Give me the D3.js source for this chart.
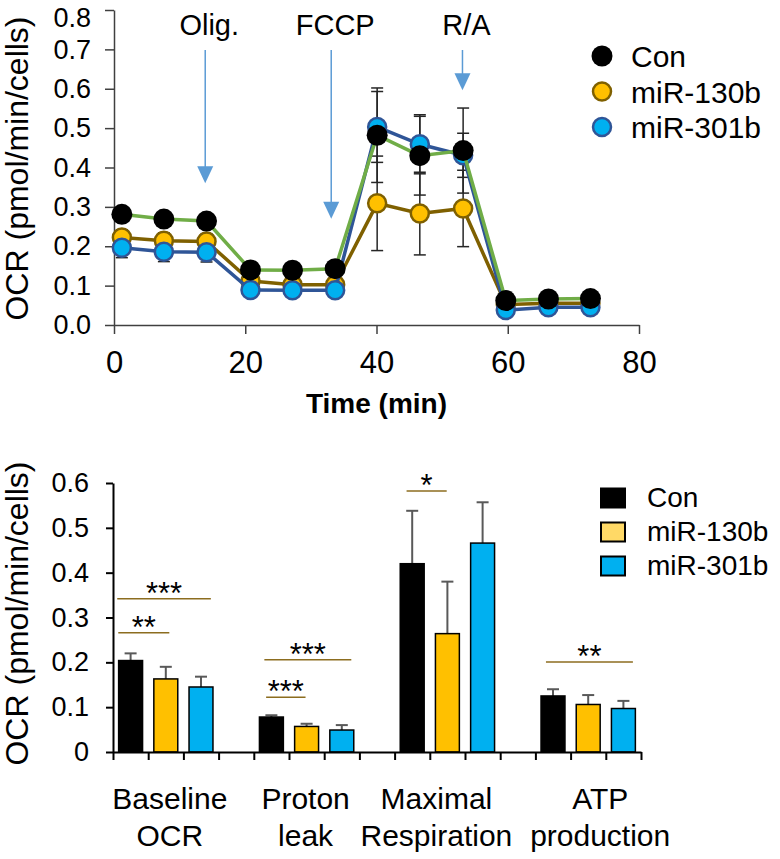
<!DOCTYPE html>
<html>
<head>
<meta charset="utf-8">
<script src="https://cdn.jsdelivr.net/npm/d3@7"></script>
<style>
body { margin: 0; background: #fff; }
text { font-family: "Liberation Sans", Arial, sans-serif; fill: #000; }
</style>
</head>
<body>
<script>
// ---- top panel: OCR time course ----
var times = [1.2, 7.6, 14.1, 20.8, 27.2, 33.7, 40.1, 46.6, 53.2, 59.7, 66.2, 72.6];
var conOCR = [0.281, 0.269, 0.264, 0.140, 0.139, 0.143, 0.482, 0.430, 0.443, 0.062, 0.066, 0.067];
var conErr = [0.015, 0.012, 0.015, 0.008, 0.008, 0.008, 0.120, 0.100, 0.108, 0.005, 0.005, 0.005];
var mir130OCR = [0.222, 0.214, 0.212, 0.112, 0.102, 0.102, 0.309, 0.283, 0.296, 0.052, 0.055, 0.055];
var mir130Err = [0.020, 0.020, 0.020, 0.008, 0.008, 0.008, 0.120, 0.105, 0.097, 0.005, 0.005, 0.005];
var mir301OCR = [0.196, 0.186, 0.185, 0.089, 0.088, 0.088, 0.503, 0.459, 0.431, 0.038, 0.045, 0.045];
var mir301Err = [0.025, 0.025, 0.025, 0.008, 0.008, 0.008, 0.090, 0.075, 0.056, 0.005, 0.005, 0.005];

var injNames = ["Olig.", "FCCP", "R/A"];
var injTimes = [13.9, 33.1, 53.1];
var injTips = [0.36, 0.27, 0.596];

var timeTicks = [0, 20, 40, 60, 80];
var ocrTicks = [0, 0.1, 0.2, 0.3, 0.4, 0.5, 0.6, 0.7, 0.8];

// ---- bottom panel: derived parameters ----
var groups = [["Baseline", "OCR"], ["Proton", "leak"], ["Maximal", "Respiration"], ["ATP", "production"]];
var conBar = [0.204, 0.078, 0.420, 0.125];
var conBarErr = [0.016, 0.004, 0.118, 0.015];
var mir130Bar = [0.163, 0.057, 0.264, 0.106];
var mir130BarErr = [0.027, 0.006, 0.116, 0.021];
var mir301Bar = [0.145, 0.049, 0.466, 0.097];
var mir301BarErr = [0.023, 0.011, 0.091, 0.017];
var barTicks = [0, 0.1, 0.2, 0.3, 0.4, 0.5, 0.6];

// significance brackets, x in bar-slot units
var sigLabels = ["***", "**", "***", "***", "*", "**"];
var sigFrom = [0.12, 0.15, 4.30, 4.35, 8.34, 12.30];
var sigTo = [2.78, 1.60, 6.77, 5.47, 9.48, 14.77];
var sigLevel = [0.342, 0.266, 0.206, 0.122, 0.582, 0.201];

var svg = d3.select("body").append("svg")
    .attr("width", 780)
    .attr("height", 859);

// ================= TOP =================
var x = d3.scaleLinear().domain([0, 80]).range([114, 639]);
var y = d3.scaleLinear().domain([0, 0.8]).range([325, 10]);

var upper = svg.append("g");

// axes
upper.append("g")
    .attr("transform", "translate(0," + y(0) + ")")
    .call(d3.axisBottom(x).tickValues(timeTicks).tickSize(9).tickPadding(17).tickSizeOuter(0))
    .call(function(g) {
        g.select(".domain").attr("stroke", "#404040").attr("stroke-width", 1.5);
        g.selectAll(".tick line").attr("stroke", "#404040").attr("stroke-width", 1.5);
        g.selectAll("text").attr("font-size", 31).attr("font-family", null);
    });

upper.append("g")
    .attr("transform", "translate(" + x(0) + ",0)")
    .call(d3.axisLeft(y).tickValues(ocrTicks).tickFormat(d3.format(".1f")).tickSize(9).tickPadding(14).tickSizeOuter(0))
    .call(function(g) {
        g.select(".domain").attr("stroke", "#404040").attr("stroke-width", 1.5);
        g.selectAll(".tick line").attr("stroke", "#404040").attr("stroke-width", 1.5);
        g.selectAll("text").attr("font-size", 27).attr("font-family", null)
            .attr("dy", function(d) { return d === 0.8 ? "0.62em" : "0.32em"; });
    });

upper.append("text")
    .attr("transform", "translate(27.5," + ((y(0) + y(0.8)) / 2 + 1) + ") rotate(-90)")
    .attr("text-anchor", "middle")
    .attr("font-size", 32)
    .text("OCR (pmol/min/cells)");

upper.append("text")
    .attr("x", (x(0) + x(80)) / 2)
    .attr("y", 413)
    .attr("text-anchor", "middle")
    .attr("font-size", 28)
    .attr("font-weight", "bold")
    .text("Time (min)");

// injection arrows
var injColor = "#5b9bd5";
injNames.forEach(function(name, i) {
    var ax = x(injTimes[i]);
    var tip = y(injTips[i]);
    upper.append("line")
        .attr("x1", ax).attr("x2", ax)
        .attr("y1", 50).attr("y2", tip - 14)
        .attr("stroke", injColor).attr("stroke-width", 1.5);
    upper.append("path")
        .attr("d", "M" + (ax - 8) + "," + (tip - 17) + "L" + (ax + 8) + "," + (tip - 17) + "L" + ax + "," + tip + "Z")
        .attr("fill", injColor);
    upper.append("text")
        .attr("x", ax + 4)
        .attr("y", 35)
        .attr("text-anchor", "middle")
        .attr("font-size", 29)
        .text(name);
});

var series = [
    { name: "miR-130b", v: mir130OCR, e: mir130Err, line: "#7f6000", fill: "#ffc000", stroke: "#7f6000", r: 9 },
    { name: "miR-301b", v: mir301OCR, e: mir301Err, line: "#2f5597", fill: "#00b0f0", stroke: "#2f5597", r: 9 },
    { name: "Con", v: conOCR, e: conErr, line: "#70ad47", fill: "#000", stroke: "#000", r: 10.5 }
];

// error bars
series.forEach(function(s) {
    var eb = upper.append("g").attr("stroke", "#262626").attr("stroke-width", 1.5);
    times.forEach(function(t, i) {
        var cx = x(t), hi = y(s.v[i] + s.e[i]), lo = y(s.v[i] - s.e[i]);
        eb.append("line").attr("x1", cx).attr("x2", cx).attr("y1", hi).attr("y2", lo);
        eb.append("line").attr("x1", cx - 6).attr("x2", cx + 6).attr("y1", hi).attr("y2", hi);
        eb.append("line").attr("x1", cx - 6).attr("x2", cx + 6).attr("y1", lo).attr("y2", lo);
    });
});

var lineGen = d3.line()
    .x(function(d, i) { return x(times[i]); })
    .y(function(d) { return y(d); });

series.forEach(function(s) {
    upper.append("path")
        .datum(s.v)
        .attr("d", lineGen)
        .attr("fill", "none")
        .attr("stroke", s.line)
        .attr("stroke-width", 3.5);
    upper.selectAll(null)
        .data(s.v)
        .enter()
        .append("circle")
        .attr("cx", function(d, i) { return x(times[i]); })
        .attr("cy", function(d) { return y(d); })
        .attr("r", s.r)
        .attr("fill", s.fill)
        .attr("stroke", s.stroke)
        .attr("stroke-width", s.name === "Con" ? 0 : 2.5);
});

// legend
var legTop = [series[2], series[0], series[1]];
legTop.forEach(function(s, i) {
    var ly = 56 + i * 35.5;
    upper.append("circle")
        .attr("cx", 602).attr("cy", ly)
        .attr("r", s.name === "Con" ? 10.5 : 9)
        .attr("fill", s.fill)
        .attr("stroke", s.stroke)
        .attr("stroke-width", s.name === "Con" ? 0 : 2.5);
    upper.append("text")
        .attr("x", 631).attr("y", ly + 11)
        .attr("font-size", 30)
        .text(s.name);
});

// ================= BOTTOM =================
var xs = d3.scaleLinear().domain([0, 15]).range([113, 641]);
var yb = d3.scaleLinear().domain([0, 0.6]).range([752, 483]);
var slotW = xs(1) - xs(0);
var barW = slotW * 0.68;

var bot = svg.append("g");

var barSeries = [
    { name: "Con", v: conBar, e: conBarErr, fill: "#000000", legFill: "#000000" },
    { name: "miR-130b", v: mir130Bar, e: mir130BarErr, fill: "#ffc000", legFill: "#ffd966" },
    { name: "miR-301b", v: mir301Bar, e: mir301BarErr, fill: "#00b0f0", legFill: "#00b0f0" }
];

// error bars (upper only)
barSeries.forEach(function(s, si) {
    s.v.forEach(function(v, gi) {
        var cx = xs(gi * 4 + si + 0.5);
        bot.append("line")
            .attr("x1", cx).attr("x2", cx)
            .attr("y1", yb(v)).attr("y2", yb(v + s.e[gi]))
            .attr("stroke", "#595959").attr("stroke-width", 2);
        bot.append("line")
            .attr("x1", cx - 6).attr("x2", cx + 6)
            .attr("y1", yb(v + s.e[gi])).attr("y2", yb(v + s.e[gi]))
            .attr("stroke", "#595959").attr("stroke-width", 2);
    });
});

barSeries.forEach(function(s, si) {
    bot.selectAll(null)
        .data(s.v)
        .enter()
        .append("rect")
        .attr("x", function(d, gi) { return xs(gi * 4 + si + 0.5) - barW / 2; })
        .attr("y", function(d) { return yb(d); })
        .attr("width", barW)
        .attr("height", function(d) { return yb(0) - yb(d); })
        .attr("fill", s.fill)
        .attr("stroke", "#000")
        .attr("stroke-width", 1.5);
});

bot.append("g")
    .attr("transform", "translate(0," + yb(0) + ")")
    .call(d3.axisBottom(xs).tickValues(d3.range(0, 16)).tickFormat("").tickSize(8).tickSizeOuter(0))
    .call(function(g) {
        g.select(".domain").attr("stroke", "#000").attr("stroke-width", 2);
        g.selectAll(".tick line").attr("stroke", "#000").attr("stroke-width", 2);
    });

bot.append("g")
    .attr("transform", "translate(" + xs(0) + ",0)")
    .call(d3.axisLeft(yb).tickValues(barTicks).tickFormat(function(d) { return d === 0 ? "0" : d3.format(".1f")(d); })
        .tickSize(7).tickPadding(17).tickSizeOuter(0))
    .call(function(g) {
        g.select(".domain").attr("stroke", "#000").attr("stroke-width", 2);
        g.selectAll(".tick line").attr("stroke", "#000").attr("stroke-width", 2);
        g.selectAll("text").attr("font-size", 27).attr("font-family", null);
    });

bot.append("text")
    .attr("transform", "translate(27.5," + ((yb(0) + yb(0.6)) / 2 - 4) + ") rotate(-90)")
    .attr("text-anchor", "middle")
    .attr("font-size", 32)
    .text("OCR (pmol/min/cells)");

// category labels
var labelShift = [4, -1, -11, 12];
groups.forEach(function(lines, gi) {
    var cx = xs(gi * 4 + 1.5) + labelShift[gi];
    lines.forEach(function(t, li) {
        bot.append("text")
            .attr("x", cx)
            .attr("y", 809 + li * 37)
            .attr("text-anchor", "middle")
            .attr("font-size", 30)
            .text(t);
    });
});

// significance
sigLabels.forEach(function(lab, i) {
    bot.append("line")
        .attr("x1", xs(sigFrom[i])).attr("x2", xs(sigTo[i]))
        .attr("y1", yb(sigLevel[i])).attr("y2", yb(sigLevel[i]))
        .attr("stroke", "#8c6d1f").attr("stroke-width", 1.5);
    bot.append("text")
        .attr("x", (xs(sigFrom[i]) + xs(sigTo[i])) / 2)
        .attr("y", yb(sigLevel[i]) + 5)
        .attr("text-anchor", "middle")
        .attr("font-size", 31)
        .text(lab);
});

// legend
barSeries.forEach(function(s, i) {
    var ly = 498 + i * 34;
    bot.append("rect")
        .attr("x", 601).attr("y", ly - 9.5)
        .attr("width", 24).attr("height", 19)
        .attr("fill", s.legFill)
        .attr("stroke", "#000").attr("stroke-width", 2);
    bot.append("text")
        .attr("x", 647).attr("y", ly + 9)
        .attr("font-size", 28)
        .text(s.name);
});
</script>
</body>
</html>
